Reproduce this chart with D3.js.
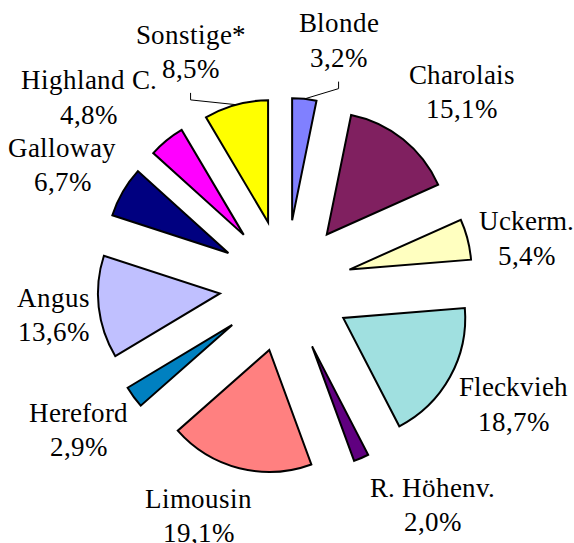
<!DOCTYPE html>
<html>
<head>
<meta charset="utf-8">
<script src="https://cdn.jsdelivr.net/npm/d3@7"></script>
<style>
  @font-face { font-family: "ChartSerif"; src: local("Liberation Serif"), local("LiberationSerif"), local("LiberationSerif-Regular"), local("Times New Roman"); }
  body { margin: 0; }
</style>
</head>
<body>
<script>
(function(){

  //chart data, clockwise from 12 o'clock
  var breeds = ["Blonde", "Charolais", "Uckerm.", "Fleckvieh", "R. H\u00f6henv.", "Limousin", "Hereford", "Angus", "Galloway", "Highland C.", "Sonstige*"];
  var shares = [3.2, 15.1, 5.4, 18.7, 2.0, 19.1, 2.9, 13.6, 6.7, 4.8, 8.5];
  var colors = ["#8080FF", "#802060", "#FFFFC0", "#A0E0E0", "#600080", "#FF8080", "#0080C0", "#C0C0FF", "#000080", "#FF00FF", "#FFFF00"];

  //labels that were dragged away from their default spot (Excel style), by slice index
  var labelNudge = [[28, -7], [12, -7], [-8, 12], [-3, 2], [37, -1], [-22, -3], [2, 2], [13, 2], [5, -1], [-21, -3], [-25, -3]];
  var leaderLines = [0, 10]; //Blonde, Sonstige*

  var fontStack = "ChartSerif, 'Liberation Serif', Times, serif";

  //frame
  var width = 574,
      height = 543,
      cx = 285.5,
      cy = 286,
      radius = 122,
      explode = 66,
      labelRadius = 210,
      lineGap = 34.4;

  var svg = d3.select("body")
      .append("svg")
      .attr("width", width)
      .attr("height", height)
      .style("display", "block");

  var data = breeds.map(function(b, i){
      return { name: b, value: shares[i], color: colors[i], idx: i };
  });

  var pie = d3.pie()
      .sort(null)
      .value(function(d){ return d.value; });

  var arc = d3.arc()
      .innerRadius(0)
      .outerRadius(radius);

  var arcs = pie(data);

  function mid(d){ return (d.startAngle + d.endAngle) / 2; }

  var fmt = d3.format(".1f");
  function pct(v){ return fmt(v).replace(".", ",") + "%"; }

  //exploded slices
  svg.selectAll(".slice")
      .data(arcs)
      .enter()
      .append("path")
      .attr("class", "slice")
      .attr("d", arc)
      .attr("transform", function(d){
          var a = mid(d);
          return "translate(" + (cx + explode * Math.sin(a)) + "," + (cy - explode * Math.cos(a)) + ")";
      })
      .style("fill", function(d){ return d.data.color; })
      .style("stroke", "#000")
      .style("stroke-width", 2)
      .style("stroke-linejoin", "miter");

  //data labels, two text lines each
  arcs.forEach(function(d){
      var lines = [d.data.name, pct(d.data.value)];
      var texts = lines.map(function(s){
          return svg.append("text")
              .style("font-family", fontStack)
              .style("font-size", "27px")
              .style("font-weight", "normal")
              .attr("text-anchor", "middle")
              .text(s);
      });
      var w = d3.max(texts, function(t){ return t.node().getComputedTextLength(); });
      var a = mid(d),
          nudge = labelNudge[d.data.idx];
      var bx = cx + (labelRadius + w / 2) * Math.sin(a) + nudge[0],
          by = cy - (labelRadius + 30) * Math.cos(a) + nudge[1];
      texts.forEach(function(t, i){
          t.attr("x", bx).attr("y", by - 8 + i * lineGap);
      });
      d.labelX = bx;
      d.labelBottom = by - 8 + lineGap + 15;
  });

  //leader lines for the moved labels
  svg.selectAll(".leader")
      .data(arcs.filter(function(d){ return leaderLines.indexOf(d.data.idx) >= 0; }))
      .enter()
      .append("polyline")
      .attr("class", "leader")
      .attr("points", function(d){
          var a = mid(d),
              r = explode + radius;
          return [[d.labelX, d.labelBottom], [d.labelX, d.labelBottom + 7], [cx + r * Math.sin(a), cy - r * Math.cos(a)]]
              .map(function(p){ return p.join(","); }).join(" ");
      })
      .style("fill", "none")
      .style("stroke", "#000")
      .style("stroke-width", 1);

})();
</script>
</body>
</html>
